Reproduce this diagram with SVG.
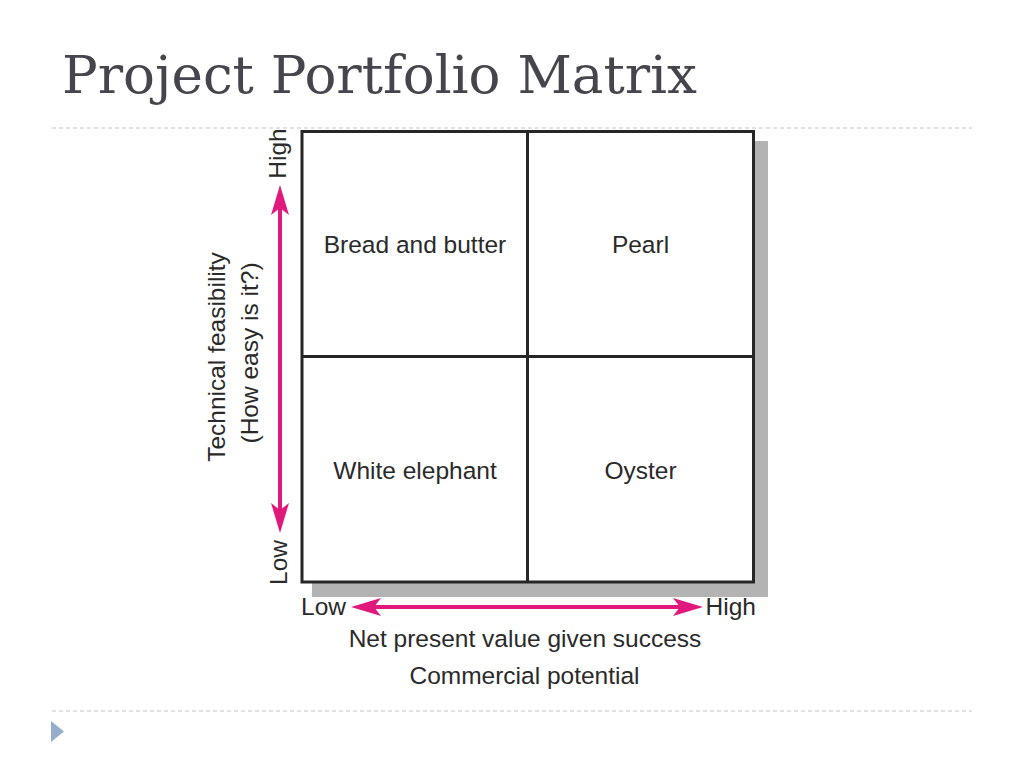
<svg xmlns="http://www.w3.org/2000/svg" width="1024" height="768" viewBox="0 0 1024 768">
  <style>
    .title { font-family: "DejaVu Serif", "Liberation Serif", serif; font-size: 52px; fill: #45464d; }
    .lbl { font-family: "Liberation Sans", Arial, sans-serif; font-size: 24.5px; fill: #2a2a2a; }
    .cell { fill: #ffffff; stroke: #262626; stroke-width: 3; }
    .grid { stroke: #262626; stroke-width: 3; }
    .dash { stroke: #c4c4c4; stroke-width: 1; stroke-dasharray: 4 3; }
    .axis { stroke: #e2197d; stroke-width: 4; fill: none; }
  </style>
  <defs>
    <marker id="head" viewBox="0 0 30 18" refX="7" refY="9" markerWidth="30" markerHeight="18" markerUnits="userSpaceOnUse" orient="auto-start-reverse">
      <path d="M0,0 L30,9 L0,18 L7,9 z" fill="#e2197d"/>
    </marker>
  </defs>
  <rect width="1024" height="768" fill="#ffffff"/>

  <text class="title" x="62" y="93" textLength="635" lengthAdjust="spacingAndGlyphs">Project Portfolio Matrix</text>
  <line class="dash" x1="52" y1="128" x2="972" y2="128"/>
  <line class="dash" x1="52" y1="711" x2="972" y2="711"/>
  <polygon points="51,721 64,731.5 51,742" fill="#94aecb"/>

  <g id="matrix">
    <rect x="312" y="141" width="456" height="456" fill="#b3b3b3"/>
    <rect class="cell" x="302" y="131.5" width="451.5" height="450.5"/>
    <line class="grid" x1="527.5" y1="131.5" x2="527.5" y2="582"/>
    <line class="grid" x1="302" y1="356.5" x2="753.5" y2="356.5"/>
  </g>
  <g id="bread-and-butter"><text class="lbl" x="415" y="253" text-anchor="middle">Bread and butter</text></g>
  <g id="pearl"><text class="lbl" x="640.5" y="253" text-anchor="middle">Pearl</text></g>
  <g id="white-elephant"><text class="lbl" x="415" y="479" text-anchor="middle">White elephant</text></g>
  <g id="oyster"><text class="lbl" x="640.5" y="479" text-anchor="middle">Oyster</text></g>

  <g id="connectors">
    <line class="axis" x1="280" y1="510" x2="280" y2="208" marker-start="url(#head)" marker-end="url(#head)"/>
    <line class="axis" x1="374" y1="607" x2="680" y2="607" marker-start="url(#head)" marker-end="url(#head)"/>
  </g>

  <g id="y-axis-labels">
    <text class="lbl" transform="translate(286,153.5) rotate(-90)" text-anchor="middle">High</text>
    <text class="lbl" transform="translate(287,562.5) rotate(-90)" text-anchor="middle">Low</text>
    <text class="lbl" transform="translate(225,357) rotate(-90)" text-anchor="middle">Technical feasibility</text>
    <text class="lbl" transform="translate(258,353) rotate(-90)" text-anchor="middle">(How easy is it?)</text>
  </g>
  <g id="x-axis-labels">
    <text class="lbl" x="301" y="615">Low</text>
    <text class="lbl" x="756" y="615" text-anchor="end">High</text>
    <text class="lbl" x="525" y="647" text-anchor="middle">Net present value given success</text>
    <text class="lbl" x="524.5" y="684" text-anchor="middle">Commercial potential</text>
  </g>
</svg>
